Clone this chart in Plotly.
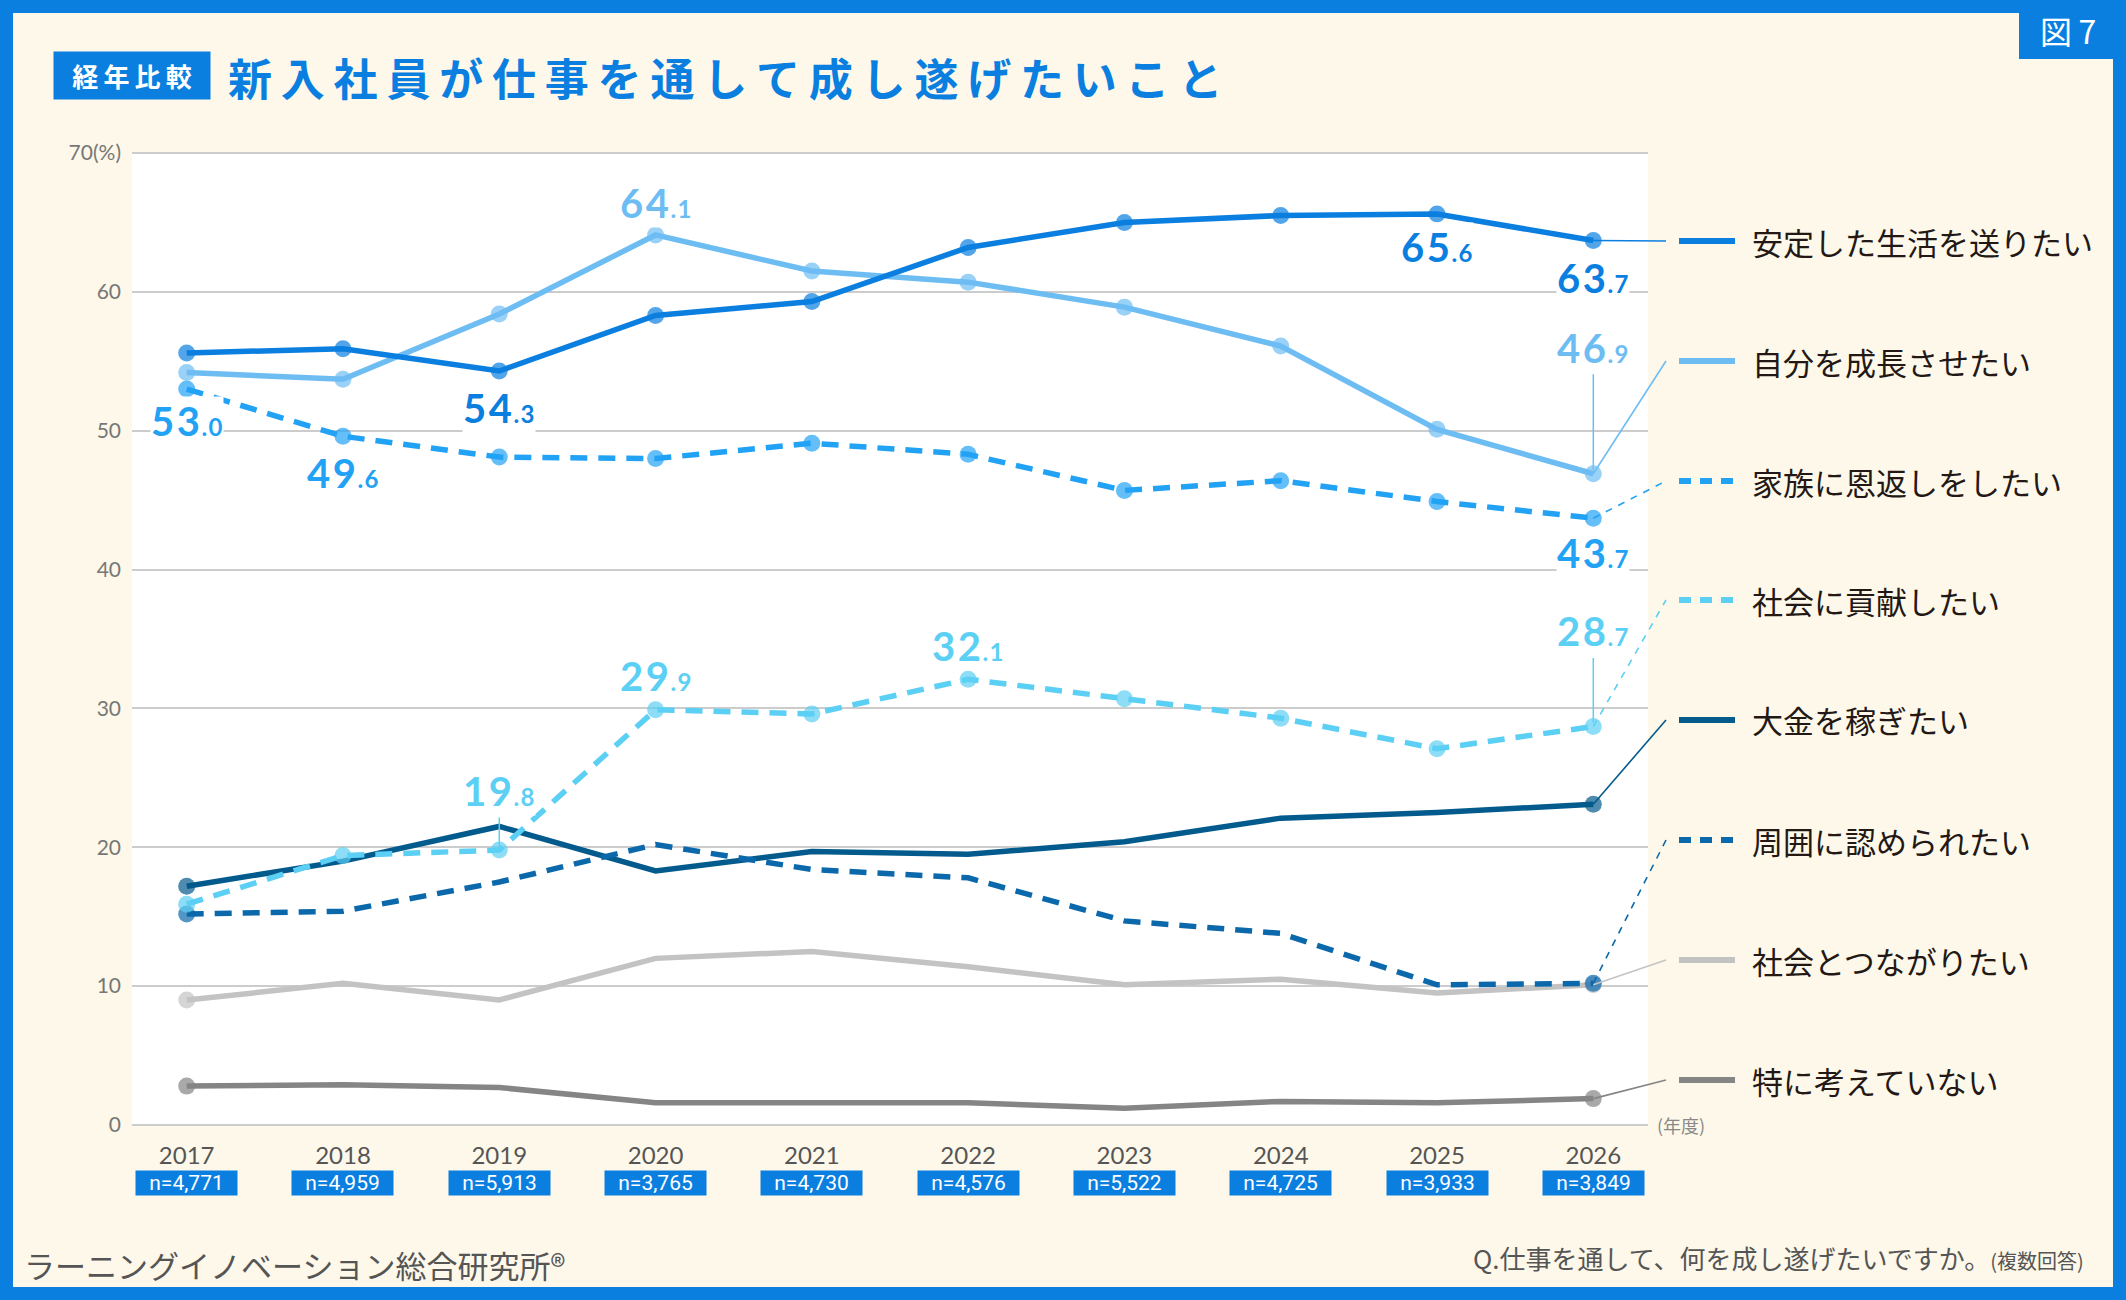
import plotly.graph_objects as go

# ---------------- data ----------------
years = ["2017", "2018", "2019", "2020", "2021", "2022", "2023", "2024", "2025", "2026"]
n_labels = ["n=4,771", "n=4,959", "n=5,913", "n=3,765", "n=4,730",
            "n=4,576", "n=5,522", "n=4,725", "n=3,933", "n=3,849"]

antei     = [55.6, 55.9, 54.3, 58.3, 59.3, 63.2, 65.0, 65.5, 65.6, 63.7]
seichou   = [54.2, 53.7, 58.4, 64.1, 61.5, 60.7, 58.9, 56.1, 50.1, 46.9]
kazoku    = [53.0, 49.6, 48.1, 48.0, 49.1, 48.3, 45.7, 46.4, 44.9, 43.7]
koken     = [15.9, 19.4, 19.8, 29.9, 29.6, 32.1, 30.7, 29.3, 27.1, 28.7]
taikin    = [17.2, 19.0, 21.5, 18.3, 19.7, 19.5, 20.4, 22.1, 22.5, 23.1]
shui      = [15.2, 15.4, 17.5, 20.2, 18.4, 17.8, 14.7, 13.8, 10.1, 10.2]
tsunagari = [9.0, 10.2, 9.0, 12.0, 12.5, 11.4, 10.1, 10.5, 9.5, 10.1]
tokuni    = [2.8, 2.9, 2.7, 1.6, 1.6, 1.6, 1.2, 1.7, 1.6, 1.9]

y_ticks = [0, 10, 20, 30, 40, 50, 60, 70]
y_ticktext = ["0", "10", "20", "30", "40", "50", "60", "70(%)"]

# ---------------- layout constants ----------------
W, H = 2126, 1300
L, R, T, B = 132, 478, 153, 175
PW, PH = W - L - R, H - T - B
XMIN, XMAX = -0.35, 9.35
YMAX = 70

BLUE = "#0a7fe0"
CREAM = "#fdf8e9"
GRID = "#cccccc"
CJK = "Noto Sans CJK JP"
NUM = "Lato"


def xp(px):
    return (px - L) / PW


def yp(py):
    return (H - B - py) / PH


def ydata(py):
    return yp(py) * YMAX


def xidx_paper(i):
    return (i - XMIN) / (XMAX - XMIN)


# series: (name, values, color, dash, all_markers, legend_py)
series = [
    ("安定した生活を送りたい", antei, "#0a7fe0", "solid", True, 241),
    ("自分を成長させたい", seichou, "#6dbdf3", "solid", True, 361),
    ("家族に恩返しをしたい", kazoku, "#22a2f5", "dash", True, 481),
    ("社会に貢献したい", koken, "#5ccff4", "dash", True, 600),
    ("大金を稼ぎたい", taikin, "#035a8c", "solid", False, 720),
    ("周囲に認められたい", shui, "#0a68ab", "dash", False, 840),
    ("社会とつながりたい", tsunagari, "#c3c3c3", "solid", False, 960),
    ("特に考えていない", tokuni, "#858585", "solid", False, 1080),
]

draw_order = [7, 6, 4, 5, 3, 2, 1, 0]

fig = go.Figure()
xs = list(range(len(years)))
for k in draw_order:
    name, vals, col, dash, allm, _ = series[k]
    n = len(vals)
    sizes = [17] * n if allm else [17 if (i == 0 or i == n - 1) else 0 for i in range(n)]
    fig.add_trace(go.Scatter(
        x=xs, y=vals, name=name, mode="lines+markers",
        line=dict(color=col, width=5.5, dash="17px,11px" if dash == "dash" else "solid"),
        marker=dict(color=col, size=sizes, line=dict(width=0)),
        showlegend=False, hoverinfo="skip", cliponaxis=False,
    ))

shapes = []
annotations = []

# frame
for x0, y0, x1, y1 in [(0, 0, W, 13), (0, H - 13, W, H), (0, 0, 13, H), (W - 13, 0, W, H), (2019, 0, W - 13, 59)]:
    shapes.append(dict(type="rect", xref="paper", yref="paper", x0=xp(x0), x1=xp(x1),
                       y0=yp(y1), y1=yp(y0), fillcolor=BLUE, line=dict(width=0), layer="above"))

# top and bottom grid lines of the plot area
for yy in (0, 1):
    shapes.append(dict(type="line", xref="paper", yref="paper", x0=0, x1=1, y0=yy, y1=yy,
                       line=dict(color=GRID, width=2), layer="below"))

# legend + connectors
for name, vals, col, dash, allm, lpy in series:
    shapes.append(dict(type="line", xref="paper", yref="y",
                       x0=xidx_paper(len(vals) - 1), y0=vals[-1], x1=xp(1666), y1=ydata(lpy),
                       line=dict(color=col, width=1.6, dash="7px,7px" if dash == "dash" else "solid"),
                       layer="above"))
    shapes.append(dict(type="line", xref="paper", yref="paper",
                       x0=xp(1679), x1=xp(1735), y0=yp(lpy), y1=yp(lpy),
                       line=dict(color=col, width=6, dash="12px,9px" if dash == "dash" else "solid"),
                       layer="above"))
    annotations.append(dict(xref="paper", yref="paper", x=xp(1750), y=yp(lpy), text=name,
                            xanchor="left", yanchor="middle", showarrow=False,
                            font=dict(family=CJK, size=31, color="#231815")))

# value labels: (series index, point index, y offset px, arrow)
label_specs = [
    (2, 0, -32, False), (2, 1, -37, False), (0, 2, -37, False), (1, 3, 32, False),
    (0, 8, -33, False), (0, 9, -38, False), (1, 9, -126, True), (2, 9, -35, False),
    (3, 2, -59, True), (3, 3, 34, False), (3, 5, 33, False), (3, 9, -95, True),
]
for si, pi, off, arrow in label_specs:
    name, vals, col, dash, allm, lpy = series[si]
    s = f"{vals[pi]:.1f}"
    ip, dp = s.split(".")
    txt = "\u200a".join(ip) + f"<span style='font-size:24px'>\u200a.\u200a{dp}</span>"
    a = dict(xref="x", yref="y", x=pi, y=vals[pi], text=txt, xanchor="center", yanchor="middle",
             font=dict(family=NUM, size=40, color=col, weight=700),
             bgcolor="white", borderpad=0)
    if arrow:
        a.update(showarrow=True, ax=0, ay=off, arrowhead=0, arrowwidth=1.5,
                 arrowcolor=col, standoff=4, startstandoff=2)
    else:
        a.update(showarrow=False, yshift=off)
    annotations.append(a)

# n badges
for i, nl in enumerate(n_labels):
    annotations.append(dict(xref="x", yref="paper", x=i, y=yp(1183), text=nl, showarrow=False,
                            xanchor="center", yanchor="middle",
                            bgcolor=BLUE, width=99, height=22, borderpad=1,
                            font=dict(family="Roboto", size=21, color="white")))

# titles and notes
annotations += [
    dict(xref="paper", yref="paper", x=xp(132), y=yp(76), text="経\u2009年\u2009比\u2009較",
         xanchor="center", yanchor="middle",
         showarrow=False, bgcolor=BLUE, width=154, height=45, borderpad=1,
         font=dict(family=CJK, size=26, color="white", weight=700)),
    dict(xref="paper", yref="paper", x=xp(226), y=yp(77),
         text="\u2009".join("新入社員が仕事を通して成し遂げたいこと"),
         xanchor="left", yanchor="middle", showarrow=False,
         font=dict(family=CJK, size=44, color=BLUE, weight=700)),
    dict(xref="paper", yref="paper", x=xp(2068), y=yp(30), text="図\u20097",
         xanchor="center", yanchor="middle",
         showarrow=False, font=dict(family=CJK, size=32, color="white")),
    dict(xref="paper", yref="paper", x=xp(1655), y=yp(1125), text="(年度)",
         xanchor="left", yanchor="middle", showarrow=False,
         font=dict(family=CJK, size=18, color="#888888")),
    dict(xref="paper", yref="paper", x=xp(22), y=yp(1264), text="ラーニングイノベーション総合研究所®",
         xanchor="left", yanchor="middle", showarrow=False,
         font=dict(family=CJK, size=31, color="#555555")),
    dict(xref="paper", yref="paper", x=xp(2086), y=yp(1257),
         text="Q.仕事を通して、何を成し遂げたいですか。<span style='font-size:20px'>(複数回答)</span>",
         xanchor="right", yanchor="middle", showarrow=False,
         font=dict(family=CJK, size=26, color="#555555")),
]

fig.update_layout(
    width=W, height=H,
    margin=dict(l=L, r=R, t=T, b=B, autoexpand=False),
    paper_bgcolor=CREAM, plot_bgcolor="white",
    shapes=shapes, annotations=annotations,
    xaxis=dict(range=[XMIN, XMAX], tickvals=xs, ticktext=years, showgrid=False,
               zeroline=False, showline=False, ticks="", ticklabelstandoff=14,
               tickfont=dict(family=NUM, size=24, color="#555555")),
    yaxis=dict(range=[0, YMAX], tickvals=y_ticks, ticktext=y_ticktext, showgrid=True,
               gridcolor=GRID, gridwidth=2, zeroline=False, showline=False, ticks="",
               ticklabelstandoff=10, tickfont=dict(family=NUM, size=21, color="#777777")),
)

fig.write_html("out.html")
